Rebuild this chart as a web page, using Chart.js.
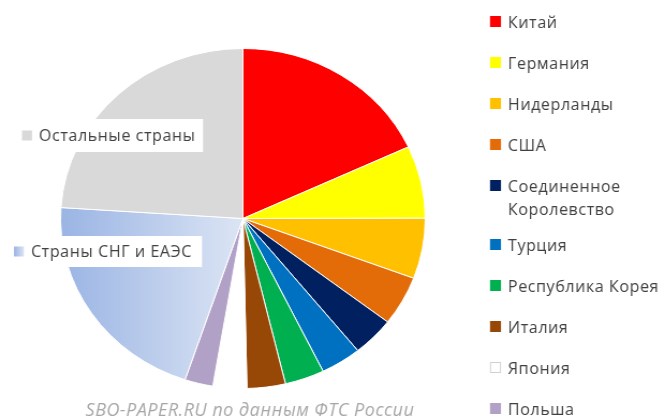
<!DOCTYPE html>
<html>
<head>
<meta charset="utf-8">
<script src="https://cdn.jsdelivr.net/npm/chart.js@4.4.1/dist/chart.umd.min.js"></script>
<style>
  html, body { margin: 0; padding: 0; background: #fff; overflow: hidden; }
  #wrap { width: 665px; height: 418px; overflow: hidden; }
  /* the original pie is a bit wider than tall, so the canvas is stretched sideways */
  #chart { transform-origin: 0 0; }
</style>
</head>
<body>
<div id="wrap"><canvas id="chart" width="620" height="418"></canvas></div>
<script>
// shares of imports by country, %
const countries = [
  "Китай", "Германия", "Нидерланды", "США", "Соединенное Королевство",
  "Турция", "Республика Корея", "Италия", "Япония", "Польша",
  "Страны СНГ и ЕАЭС", "Остальные страны"
];
const shares = [18.1, 6.9, 5.75, 4.7, 3.75, 3.6, 3.5, 3.4, 3.0, 2.5, 20.9, 24.0];
const colors = [
  "#FF0000", "#FFFF00", "#FFC000", "#E36C09", "#002060",
  "#0070C0", "#00B050", "#974706", "#FFFFFF", "#B2A1C7",
  "gradient", "#D9D9D9"
];
const legendCount = 10;            // first ten go into the legend on the right
const insideLabels = [11, 10];     // these two are labelled on the pie
const sourceNote = "SBO-PAPER.RU по данным ФТС России";

const SX = 665 / 620;
const canvas = document.getElementById("chart");
canvas.style.transform = "scaleX(" + SX + ")";

const FONT = "16px 'Open Sans'";
const TEXT = "#404040";

function cisGradient(ctx, area) {
  const cx = (area.left + area.right) / 2;
  const g = ctx.createLinearGradient(area.left, 0, cx, 0);
  g.addColorStop(0, "#9AB4E4");
  g.addColorStop(1, "#DCE5F4");
  return g;
}

function wrap(ctx, text, maxW) {
  if (ctx.measureText(text).width <= maxW) return [text];
  const words = text.split(" ");
  const lines = [];
  let line = "";
  words.forEach(w => {
    const t = line ? line + " " + w : w;
    if (line && ctx.measureText(t).width > maxW) { lines.push(line); line = w; }
    else line = t;
  });
  lines.push(line);
  return lines;
}

function swatch(ctx, x, y, size, i) {
  if (colors[i] === "gradient") {
    const g = ctx.createLinearGradient(x, 0, x + size, 0);
    g.addColorStop(0, "#9AB4E4");
    g.addColorStop(1, "#DCE5F4");
    ctx.fillStyle = g;
  } else {
    ctx.fillStyle = colors[i];
  }
  ctx.fillRect(x, y, size, size);
  if (colors[i] === "#FFFFFF") {
    ctx.strokeStyle = "#D0D0D0";
    ctx.lineWidth = 1;
    ctx.strokeRect(x + 0.5, y + 0.5, size - 1, size - 1);
  }
}

const textPlugin = {
  id: "texts",
  afterDraw(chart) {
    const ctx = chart.ctx;
    ctx.save();
    ctx.scale(1 / SX, 1);   // draw text in page pixels, unstretched
    ctx.font = FONT;
    ctx.letterSpacing = "0.6px";
    ctx.textBaseline = "middle";
    ctx.textAlign = "left";

    // legend on the right
    let y = 22;
    for (let i = 0; i < legendCount; i++) {
      swatch(ctx, 490, y - 6, 11, i);
      ctx.fillStyle = TEXT;
      const lines = wrap(ctx, countries[i], 160);
      lines.forEach((ln, k) => ctx.fillText(ln, 508, y + 1 + k * 23));
      y += 41 + (lines.length - 1) * 18;
    }

    // labels sitting on the pie
    const boxes = [
      { x: 18, y: 119, w: 185, h: 33 },
      { x: 10, y: 236, w: 192, h: 31 }
    ];
    insideLabels.forEach((idx, k) => {
      const b = boxes[k];
      ctx.fillStyle = "#FFFFFF";
      ctx.fillRect(b.x, b.y, b.w, b.h);
      swatch(ctx, b.x + 4, b.y + b.h / 2 - 5, 10, idx);
      ctx.fillStyle = TEXT;
      ctx.fillText(countries[idx], b.x + 21, b.y + b.h / 2 + 1);
    });

    // source note at the bottom
    ctx.font = "italic 18px 'Open Sans'";
    ctx.letterSpacing = "0.5px";
    ctx.fillStyle = "#A6A6A6";
    ctx.textAlign = "center";
    ctx.fillText(sourceNote, 250, 411);
    ctx.restore();
  }
};

new Chart(canvas, {
  type: "pie",
  data: {
    labels: countries,
    datasets: [{
      data: shares,
      backgroundColor: (c) => {
        const col = colors[c.dataIndex];
        if (col !== "gradient") return col;
        const area = c.chart.chartArea;
        if (!area) return "#C0D0EE";
        return cisGradient(c.chart.ctx, area);
      },
      borderColor: "#FFFFFF",
      borderWidth: 1
    }]
  },
  options: {
    responsive: false,
    animation: false,
    layout: { padding: { left: 56, right: 223, top: 48, bottom: 29 } },
    plugins: {
      legend: { display: false },
      tooltip: { enabled: false }
    }
  },
  plugins: [textPlugin]
});
</script>
</body>
</html>
